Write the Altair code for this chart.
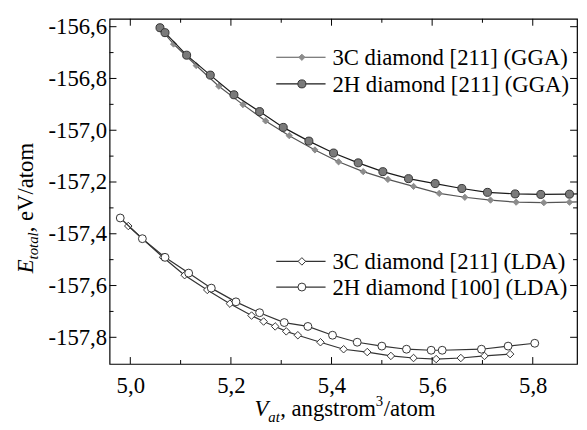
import altair as alt
import pandas as pd

# ---------------- data ----------------
gga3c_v = [5.062, 5.086, 5.131, 5.176, 5.224, 5.269, 5.316, 5.367, 5.414, 5.463,
           5.512, 5.563, 5.614, 5.665, 5.716, 5.767, 5.822, 5.873, 5.925]
gga3c_e = [-156.612, -156.667, -156.750, -156.830, -156.901, -156.964, -157.021,
           -157.076, -157.122, -157.160, -157.190, -157.217, -157.244, -157.259,
           -157.270, -157.278, -157.280, -157.278, -157.274]

gga2h_v = [5.059, 5.069, 5.112, 5.159, 5.206, 5.257, 5.304, 5.355, 5.404, 5.453,
           5.502, 5.553, 5.606, 5.659, 5.710, 5.765, 5.816, 5.873, 5.925]
gga2h_e = [-156.604, -156.623, -156.710, -156.787, -156.863, -156.928, -156.989,
           -157.042, -157.088, -157.126, -157.160, -157.187, -157.206, -157.225,
           -157.240, -157.246, -157.248, -157.247, -157.244]

lda3c_v = [4.996, 5.065, 5.108, 5.153, 5.198, 5.241, 5.265, 5.288, 5.310, 5.333,
           5.378, 5.424, 5.471, 5.518, 5.563, 5.608, 5.657, 5.704, 5.755]
lda3c_e = [-157.370, -157.491, -157.560, -157.617, -157.670, -157.716, -157.739,
           -157.758, -157.777, -157.792, -157.819, -157.846, -157.857, -157.872,
           -157.880, -157.884, -157.880, -157.872, -157.865]

lda2h_v = [4.980, 5.024, 5.069, 5.116, 5.161, 5.210, 5.257, 5.306, 5.353, 5.402,
           5.451, 5.500, 5.549, 5.598, 5.620, 5.698, 5.751, 5.804]
lda2h_e = [-157.339, -157.419, -157.491, -157.552, -157.610, -157.663, -157.705,
           -157.743, -157.758, -157.792, -157.819, -157.834, -157.846, -157.850,
           -157.850, -157.846, -157.834, -157.823]

legend_labels = ["3C diamond [211] (GGA)", "2H diamond [211] (GGA)",
                 "3C diamond [211] (LDA)", "2H diamond [100] (LDA)"]

x_major = [5.0, 5.2, 5.4, 5.6, 5.8]
x_minor = [5.1, 5.3, 5.5, 5.7]
y_major = [-156.6, -156.8, -157.0, -157.2, -157.4, -157.6, -157.8]
y_minor = [-156.7, -156.9, -157.1, -157.3, -157.5, -157.7]

# ---------------- layout / style ----------------
W, H = 474, 350
XDOM = [4.9588, 5.888]
YDOM = [-157.903, -156.5695]
FONT = "Liberation Serif"
FS = 23

lab_expr = "(datum.value < 0 ? '-' : '') + replace(format(abs(datum.value), '.1f'), '.', ',')"
xscale = alt.Scale(domain=XDOM, nice=False, zero=False)
yscale = alt.Scale(domain=YDOM, nice=False, zero=False)
xaxis = alt.Axis(values=x_major, labelExpr=lab_expr, title=None, grid=False,
                 ticks=False, tickSize=0, domain=False, labelFont=FONT,
                 labelFontSize=FS, labelColor="black", labelPadding=11)
yaxis = alt.Axis(values=y_major, labelExpr=lab_expr, title=None, grid=False,
                 ticks=False, tickSize=0, domain=False, labelFont=FONT,
                 labelFontSize=FS, labelColor="black", labelPadding=3)


def X(f):
    return alt.X(f"{f}:Q", scale=xscale, axis=xaxis)


def Y(f):
    return alt.Y(f"{f}:Q", scale=yscale, axis=yaxis)


STYLES = [
    dict(line="#555555", shape="diamond", fill="#8c8c8c", stroke="#8c8c8c", size=40),
    dict(line="#1a1a1a", shape="circle", fill="#7a7a7a", stroke="#333333", size=66),
    dict(line="#333333", shape="diamond", fill="white", stroke="#333333", size=58),
    dict(line="#333333", shape="circle", fill="white", stroke="#333333", size=64),
]


def series(v, e, st):
    df = pd.DataFrame({"v": v, "e": e})
    base = alt.Chart(df).encode(x=X("v"), y=Y("e"))
    ln = base.mark_line(color=st["line"], strokeWidth=1.2, clip=True)
    pt = base.mark_point(shape=st["shape"], filled=True, fill=st["fill"],
                         stroke=st["stroke"], strokeWidth=1, size=st["size"],
                         opacity=1, clip=True)
    return [ln, pt]


def xticks(vals, length):
    df = pd.DataFrame({"t": vals})
    b = alt.Chart(df).mark_rule(color="black", strokeWidth=1)
    return [b.encode(x=X("t"), y=alt.value(H), y2=alt.value(H - length)),
            b.encode(x=X("t"), y=alt.value(0), y2=alt.value(length))]


def yticks(vals, length):
    df = pd.DataFrame({"t": vals})
    b = alt.Chart(df).mark_rule(color="black", strokeWidth=1)
    return [b.encode(y=Y("t"), x=alt.value(0), x2=alt.value(length)),
            b.encode(y=Y("t"), x=alt.value(W), x2=alt.value(W - length))]


one = pd.DataFrame({"k": [0]})


def legend_item(label, st, ly):
    c = alt.Chart(one)
    return [
        c.mark_rule(color=st["line"], strokeWidth=1.2).encode(
            x=alt.value(169), x2=alt.value(219), y=alt.value(ly)),
        c.mark_point(shape=st["shape"], filled=True, fill=st["fill"],
                     stroke=st["stroke"], strokeWidth=1, size=st["size"],
                     opacity=1).encode(x=alt.value(195), y=alt.value(ly)),
        c.mark_text(font=FONT, fontSize=FS, align="left", baseline="middle",
                    color="black").encode(x=alt.value(226), y=alt.value(ly + 1),
                                          text=alt.value(label)),
    ]


def txt(s, x, y, size=FS, italic=False, angle=0):
    kw = dict(font=FONT, fontSize=size, align="left", baseline="alphabetic",
              color="black")
    if italic:
        kw["fontStyle"] = "italic"
    if angle:
        kw["angle"] = angle
    return alt.Chart(one).mark_text(**kw).encode(
        x=alt.value(x), y=alt.value(y), text=alt.value(s))


layers = []
for v, e, st in [(gga3c_v, gga3c_e, STYLES[0]), (gga2h_v, gga2h_e, STYLES[1]),
                 (lda3c_v, lda3c_e, STYLES[2]), (lda2h_v, lda2h_e, STYLES[3])]:
    layers += series(v, e, st)

layers += xticks(x_major, 7) + xticks(x_minor, 4)
layers += yticks(y_major, 7) + yticks(y_minor, 4)

for lab, st, ly in zip(legend_labels, STYLES, [39, 66, 246, 272]):
    layers += legend_item(lab, st, ly)

# x-axis title: V_at, angstrom^3/atom
layers += [
    txt("V", 147, 403, italic=True),
    txt("at", 161, 409, size=15, italic=True),
    txt(", angstrom", 173, 403),
    txt("3", 270, 393, size=15),
    txt("/atom", 278, 403),
]
# y-axis title: E_total, eV/atom (rotated)
layers += [
    txt("E", -78, 258, italic=True, angle=270),
    txt("total", -73, 244, size=15, italic=True, angle=270),
    txt(", eV/atom", -78, 216.5, angle=270),
]

chart = alt.layer(*layers).properties(
    width=W, height=H,
    autosize=alt.AutoSizeParams(type="none"),
    padding={"left": 103, "top": 8, "right": 2, "bottom": 64},
).configure_view(stroke="black", strokeWidth=1.2)

chart.save("out.html", embed_options={"renderer": "svg", "actions": False})
